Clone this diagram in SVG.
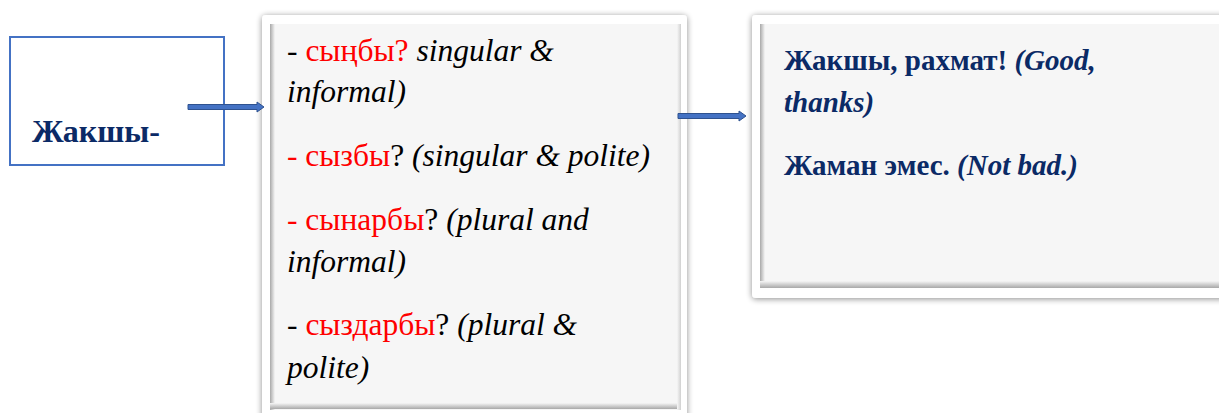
<svg xmlns="http://www.w3.org/2000/svg" width="1219" height="413" viewBox="0 0 1219 413">
<defs>
<style>
.serif{font-family:"Liberation Serif","Times New Roman",serif;}
.blk{font-size:31.5px;fill:#000;}
.red{fill:#FF0000;font-style:normal;}
.it{font-style:italic;}
.navy{font-size:29px;fill:#0B2A66;font-weight:bold;}
.frame{fill:#FFFFFF;filter:url(#sh);}
.panel{fill:#F6F6F6;}
.conn{fill:#4472C4;stroke:#2F528F;stroke-width:1;}
</style>
<filter id="sh" x="-10%" y="-10%" width="120%" height="120%">
<feGaussianBlur in="SourceAlpha" stdDeviation="3"/>
<feOffset dx="0" dy="1"/>
<feComponentTransfer><feFuncA type="linear" slope="0.45"/></feComponentTransfer>
<feMerge><feMergeNode/><feMergeNode in="SourceGraphic"/></feMerge>
</filter>
<linearGradient id="lg" x1="0" x2="1" y1="0" y2="0">
<stop offset="0" stop-color="#A8A8A8"/><stop offset="1" stop-color="#F6F6F6"/>
</linearGradient>
<linearGradient id="bg" x1="0" x2="0" y1="0" y2="1">
<stop offset="0" stop-color="#F6F6F6"/><stop offset="1" stop-color="#A8A8A8"/>
</linearGradient>
<linearGradient id="rg" x1="0" x2="1" y1="0" y2="0">
<stop offset="0" stop-color="#F6F6F6"/><stop offset="1" stop-color="#D0D0D0"/>
</linearGradient>
</defs>

<g id="node-jakshy">
<rect x="10" y="37" width="214" height="128" fill="#FFFFFF" stroke="#4472C4" stroke-width="2"/>
<text class="serif" x="32" y="142" font-size="32" font-weight="bold" fill="#0B2A66">Жакшы-</text>
</g>

<g id="node-forms">
<rect class="frame" x="262" y="15" width="425" height="410" rx="4"/>
<rect class="panel" x="270" y="24" width="411" height="386"/>
<rect x="270" y="24" width="5" height="386" fill="url(#lg)"/>
<rect x="270" y="403" width="411" height="6" fill="url(#bg)"/>
<rect x="677" y="24" width="4" height="386" fill="url(#rg)"/>
<text class="serif blk" x="287" y="61">- <tspan class="red">сыңбы?</tspan> <tspan class="it">singular &amp;</tspan></text>
<text class="serif blk it" x="287" y="102">informal)</text>
<text class="serif blk" x="287" y="166"><tspan class="red">- сызбы</tspan>? <tspan class="it">(singular &amp; polite)</tspan></text>
<text class="serif blk" x="287" y="230"><tspan class="red">- сынарбы</tspan>? <tspan class="it">(plural and</tspan></text>
<text class="serif blk it" x="287" y="272">informal)</text>
<text class="serif blk" x="287" y="335">- <tspan class="red">сыздарбы</tspan>? <tspan class="it">(plural &amp;</tspan></text>
<text class="serif blk it" x="287" y="378">polite)</text>
</g>

<g id="node-answers">
<rect class="frame" x="752" y="15" width="480" height="283" rx="4"/>
<rect class="panel" x="760" y="24" width="470" height="264"/>
<rect x="760" y="24" width="5" height="264" fill="url(#lg)"/>
<rect x="760" y="281" width="470" height="7" fill="url(#bg)"/>
<text class="serif navy" x="784" y="70">Жакшы, рахмат! <tspan font-style="italic">(Good,</tspan></text>
<text class="serif navy" x="784" y="112" font-style="italic">thanks)</text>
<text class="serif navy" x="784" y="175">Жаман эмес. <tspan font-style="italic">(Not bad.)</tspan></text>
</g>

<g id="connectors">
<path class="conn" d="M188,104.5 H257 V102 L264,107 L257,112 V109.5 H188 Z"/>
<path class="conn" d="M678,113.5 H739 V111 L746,116 L739,121 V118.5 H678 Z"/>
</g>
</svg>
